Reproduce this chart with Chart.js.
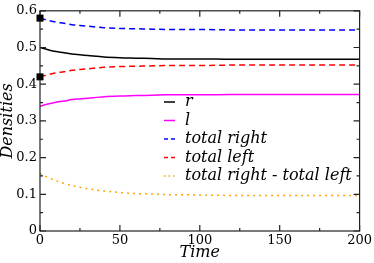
<!DOCTYPE html>
<html><head><meta charset="utf-8">
<script src="https://cdn.jsdelivr.net/npm/chart.js@4"></script>
</head><body style="margin:0">
<div style="width:374px;height:263px"><canvas id="c" width="374" height="263"></canvas></div>
<script>
const times = [0,5,10,15,20,25,30,40,50,60,70,80,90,100,120,140,160,180,200];
const rVals = [0.500,0.494,0.489,0.486,0.482,0.480,0.478,0.474,0.472,0.471,0.470,0.469,0.469,0.469,0.468,0.468,0.468,0.468,0.468];
const lVals = [0.340,0.346,0.351,0.354,0.358,0.360,0.362,0.366,0.368,0.369,0.370,0.371,0.371,0.371,0.372,0.372,0.372,0.372,0.372];
const totalRight = [0.580,0.574,0.569,0.566,0.562,0.560,0.558,0.554,0.552,0.551,0.550,0.549,0.549,0.549,0.548,0.548,0.548,0.548,0.548];
const totalLeft = [0.420,0.426,0.431,0.434,0.438,0.440,0.442,0.446,0.448,0.449,0.450,0.451,0.451,0.451,0.452,0.452,0.452,0.452,0.452];
const diffVals = [0.157,0.146,0.137,0.130,0.124,0.119,0.115,0.109,0.105,0.102,0.101,0.099,0.099,0.098,0.097,0.097,0.097,0.097,0.097];
const xTicks = [0,50,100,150,200];
const yTicks = [0,0.1,0.2,0.3,0.4,0.5,0.6];
const labels = ['r','l','total right','total left','total right - total left'];

const pts = arr => arr.map((v,i)=>({x:times[i], y:v}));
const FAM = '"DejaVu Serif", "Liberation Serif", serif';

const datasets = [
  {label:labels[0], data:pts(rVals), borderColor:'#000000', borderDash:[]},
  {label:labels[1], data:pts(lVals), borderColor:'#ff00ff', borderDash:[]},
  {label:labels[2], data:pts(totalRight), borderColor:'#0000ff', borderDash:[6,4], marker:true},
  {label:labels[3], data:pts(totalLeft), borderColor:'#ff0000', borderDash:[6,4], marker:true},
  {label:labels[4], data:pts(diffVals), borderColor:'#ffa500', borderDash:[2,4]}
].map(d=>Object.assign({
  borderWidth:1.5, tension:0.4, cubicInterpolationMode:'monotone', fill:false, clip:false,
  pointRadius:0, pointHoverRadius:0
}, d));

const frameTicks = {
  id:'frameTicks',
  afterDraw(chart){
    const {ctx, chartArea:a, scales:{x,y}} = chart;
    ctx.save();
    ctx.strokeStyle='#222'; ctx.lineWidth=1.2;
    ctx.strokeRect(a.left, a.top, a.right-a.left, a.bottom-a.top);
    ctx.beginPath();
    for(let v=0; v<=200; v+=25){
      const px = x.getPixelForValue(v); const len = (v%50===0)?6:3;
      ctx.moveTo(px,a.bottom); ctx.lineTo(px,a.bottom-len);
      ctx.moveTo(px,a.top); ctx.lineTo(px,a.top+len);
    }
    for(let k=0; k<=12; k++){
      const v=k*0.05; const py = y.getPixelForValue(v); const len=(k%2===0)?6:3;
      ctx.moveTo(a.left,py); ctx.lineTo(a.left+len,py);
      ctx.moveTo(a.right,py); ctx.lineTo(a.right-len,py);
    }
    ctx.stroke();
    chart.data.datasets.forEach(d=>{
      if(!d.marker) return;
      const px=x.getPixelForValue(d.data[0].x), py=y.getPixelForValue(d.data[0].y);
      ctx.fillStyle='#000'; ctx.fillRect(px-3.5,py-3.5,7,7);
    });
    const x0=164, x1=175, tx=185, y0=102, dy=18.5;
    chart.data.datasets.forEach((d,i)=>{
      const yy = y0 + i*dy;
      ctx.beginPath();
      ctx.strokeStyle=d.borderColor; ctx.lineWidth=1.5;
      ctx.setLineDash(d.borderDash.length? (i===4?[1.5,3]:[4,3]) : []);
      ctx.moveTo(x0,yy); ctx.lineTo(x1,yy); ctx.stroke();
      ctx.setLineDash([]);
      ctx.fillStyle='#000'; ctx.font='italic 16px '+FAM;
      ctx.textBaseline='middle'; ctx.textAlign='left';
      ctx.fillText(d.label, tx, yy);
    });
    ctx.restore();
  }
};

new Chart(document.getElementById('c'), {
  type:'line',
  data:{datasets},
  options:{
    responsive:false, animation:false,
    layout:{padding:{top:5, right:12, left:0, bottom:0}},
    plugins:{legend:{display:false}, tooltip:{enabled:false}},
    scales:{
      x:{type:'linear', min:0, max:200,
        afterBuildTicks: s => { s.ticks = xTicks.map(v=>({value:v})); },
        afterFit: s => { s.height = 32; },
        grid:{display:false, drawTicks:false}, border:{display:false},
        ticks:{color:'#000', font:{family:FAM, size:13}, padding:2, maxRotation:0},
        title:{display:true, text:'Time', color:'#000', font:{family:FAM, size:16, style:'italic', lineHeight:1.0}, padding:{top:0,bottom:2}}
      },
      y:{type:'linear', min:0, max:0.6,
        afterBuildTicks: s => { s.ticks = yTicks.map(v=>({value:v})); },
        afterFit: s => { s.width = 40; },
        grid:{display:false, drawTicks:false}, border:{display:false},
        ticks:{color:'#000', font:{family:FAM, size:13}, padding:3,
          callback: v => (v===0 ? '0' : v.toFixed(1))},
        title:{display:true, text:'Densities', color:'#000', font:{family:FAM, size:16, style:'italic', lineHeight:1.0}, padding:{top:0,bottom:0}}
      }
    }
  },
  plugins:[frameTicks]
});
</script>
</body></html>
